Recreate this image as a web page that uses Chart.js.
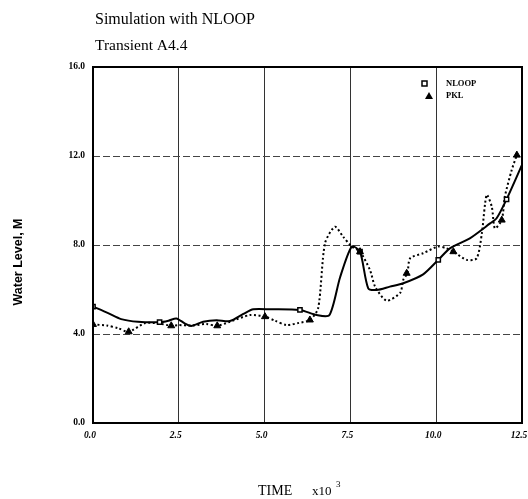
<!DOCTYPE html>
<html>
<head>
<meta charset="utf-8">
<script src="https://cdn.jsdelivr.net/npm/chart.js@4/dist/chart.umd.min.js"></script>
<style>
html,body{margin:0;padding:0;background:#fff;}
#wrap{width:528px;height:499px;position:relative;}
</style>
</head>
<body>
<div id="wrap"><canvas id="c" width="528" height="499"></canvas></div>
<script>
// ---- data ----
const titleLines = ["Simulation with NLOOP", "Transient A4.4"];
const xTitle = "TIME";
const xScaleNote = "x10";
const xScaleExp = "3";
const yTitle = "Water Level, M";
const seriesNames = ["NLOOP", "PKL"];

const nloopT = [0, 0.44, 0.82, 1.31, 1.94, 2.2, 2.43, 2.67, 2.86, 3.21, 3.6, 3.99, 4.38, 4.67, 5.16, 6.03, 6.52, 6.89, 7.2, 7.54, 7.78, 8.02, 8.27, 8.65, 9.04, 9.62, 10.06, 10.4, 10.98, 11.57, 11.76, 12.05, 12.5];
const nloopY = [5.23, 4.94, 4.67, 4.55, 4.53, 4.6, 4.7, 4.48, 4.36, 4.55, 4.62, 4.58, 4.9, 5.11, 5.11, 5.08, 4.85, 4.85, 6.55, 7.93, 7.7, 6.05, 5.98, 6.13, 6.28, 6.68, 7.33, 7.85, 8.3, 8.97, 9.2, 10.05, 11.6];

const pklT = [0, 0.4, 0.73, 1.04, 1.5, 1.89, 2.28, 2.48, 2.9, 3.3, 3.62, 3.99, 4.57, 5.01, 5.3, 5.64, 6.0, 6.32, 6.56, 6.76, 7.05, 7.29, 7.54, 7.78, 8.07, 8.22, 8.55, 8.95, 9.04, 9.16, 9.24, 9.62, 10.06, 10.3, 10.5, 10.89, 11.18, 11.33, 11.47, 11.62, 11.71, 11.91, 12.0, 12.2, 12.35];
const pklY = [4.43, 4.38, 4.26, 4.1, 4.48, 4.48, 4.37, 4.4, 4.38, 4.45, 4.37, 4.55, 4.85, 4.78, 4.6, 4.4, 4.5, 4.63, 5.15, 8.08, 8.82, 8.37, 7.93, 7.7, 6.88, 6.13, 5.5, 5.85, 6.43, 6.73, 7.4, 7.63, 7.93, 7.85, 7.7, 7.33, 7.4, 8.52, 10.25, 9.72, 8.75, 9.12, 10.17, 11.37, 12.04];

const nloopMarkT = [0, 1.94, 6.03, 7.78, 10.06, 12.05];
const nloopMarkY = [5.23, 4.53, 5.08, 7.7, 7.33, 10.05];
const pklMarkT = [0, 1.04, 2.28, 3.62, 5.01, 6.32, 7.78, 9.14, 10.5, 11.91, 12.35];
const pklMarkY = [4.43, 4.1, 4.37, 4.37, 4.78, 4.63, 7.7, 6.73, 7.7, 9.12, 12.04];

const xTicks = [0, 2.5, 5.0, 7.5, 10.0, 12.5];
const yTicks = [0, 4, 8, 12, 16];

const pts = (xs, ys) => xs.map((x, i) => ({x: x, y: ys[i]}));

const serif = '"Liberation Serif", "DejaVu Serif", serif';
const sans = '"Liberation Sans", Arial, sans-serif';

const decor = {
  id: 'decor',
  afterDraw(chart) {
    const ctx = chart.ctx;
    const a = chart.chartArea;
    ctx.save();
    // frame
    ctx.strokeStyle = '#000';
    ctx.lineWidth = 2;
    ctx.strokeRect(a.left, a.top, a.right - a.left, a.bottom - a.top);
    // titles
    ctx.fillStyle = '#000';
    ctx.textBaseline = 'alphabetic';
    ctx.textAlign = 'left';
    ctx.font = '16px ' + serif;
    ctx.fillText(titleLines[0], 95, 24);
    ctx.font = '15.5px ' + serif;
    ctx.fillText(titleLines[1], 95, 50);
    // x title
    ctx.font = '14px ' + serif;
    ctx.fillText(xTitle, 258, 495);
    ctx.font = '13px ' + serif;
    ctx.fillText(xScaleNote, 312, 495);
    ctx.font = '9px ' + serif;
    ctx.fillText(xScaleExp, 336, 487);
    // y title
    ctx.save();
    ctx.translate(22, 262);
    ctx.rotate(-Math.PI / 2);
    ctx.textAlign = 'center';
    ctx.font = 'bold 12.5px ' + sans;
    ctx.fillText(yTitle, 0, 0);
    ctx.restore();
    // legend
    ctx.font = 'bold 8.5px ' + serif;
    ctx.textBaseline = 'middle';
    ctx.fillText(seriesNames[0], 446, 84);
    ctx.fillText(seriesNames[1], 446, 96);
    ctx.lineWidth = 1.5;
    ctx.strokeRect(422, 81, 5, 5);
    ctx.beginPath();
    ctx.moveTo(429, 92);
    ctx.lineTo(425, 99);
    ctx.lineTo(433, 99);
    ctx.closePath();
    ctx.fill();
    ctx.restore();
  }
};

new Chart(document.getElementById('c'), {
  type: 'scatter',
  data: {
    datasets: [
      {
        label: seriesNames[0],
        data: pts(nloopT, nloopY),
        showLine: true,
        borderColor: '#000',
        borderWidth: 2,
        pointRadius: 0,
        tension: 0.25,
        order: 2
      },
      {
        label: seriesNames[1],
        data: pts(pklT, pklY),
        showLine: true,
        borderColor: '#000',
        borderWidth: 2,
        borderDash: [2, 2.5],
        pointRadius: 0,
        tension: 0.25,
        order: 3
      },
      {
        label: seriesNames[0] + ' markers',
        data: pts(nloopMarkT, nloopMarkY),
        showLine: false,
        pointStyle: 'rect',
        pointRadius: 3,
        borderColor: '#000',
        borderWidth: 1.5,
        backgroundColor: '#fff',
        order: 1
      },
      {
        label: seriesNames[1] + ' markers',
        data: pts(pklMarkT, pklMarkY),
        showLine: false,
        pointStyle: 'triangle',
        pointRadius: 4,
        borderColor: '#000',
        borderWidth: 1,
        backgroundColor: '#000',
        order: 0
      }
    ]
  },
  options: {
    responsive: false,
    animation: false,
    layout: {padding: {left: 0, right: 6, top: 67, bottom: 0}},
    plugins: {legend: {display: false}, tooltip: {enabled: false}, title: {display: false}},
    scales: {
      x: {
        type: 'linear',
        min: 0, max: 12.5,
        afterBuildTicks: (s) => { s.ticks = xTicks.map(v => ({value: v})); },
        afterFit: (s) => { s.height = 76; s.paddingLeft = 0; s.paddingRight = 0; },
        grid: {color: '#333', lineWidth: 1, drawTicks: false},
        border: {display: false},
        ticks: {
          padding: 7,
          labelOffset: -3,
          color: '#000',
          font: {family: serif, size: 9.5, style: 'italic', weight: 'bold'},
          callback: (v) => Number(v).toFixed(1)
        }
      },
      y: {
        type: 'linear',
        min: 0, max: 16,
        afterBuildTicks: (s) => { s.ticks = yTicks.map(v => ({value: v})); },
        afterFit: (s) => { s.width = 93; s.paddingTop = 0; s.paddingBottom = 0; },
        grid: {color: '#444', lineWidth: 1, drawTicks: false},
        border: {display: false, dash: [7, 3]},
        ticks: {
          padding: 8,
          color: '#000',
          font: {family: serif, size: 9.5, weight: 'bold'},
          callback: (v) => Number(v).toFixed(1)
        }
      }
    }
  },
  plugins: [decor]
});
</script>
</body>
</html>
